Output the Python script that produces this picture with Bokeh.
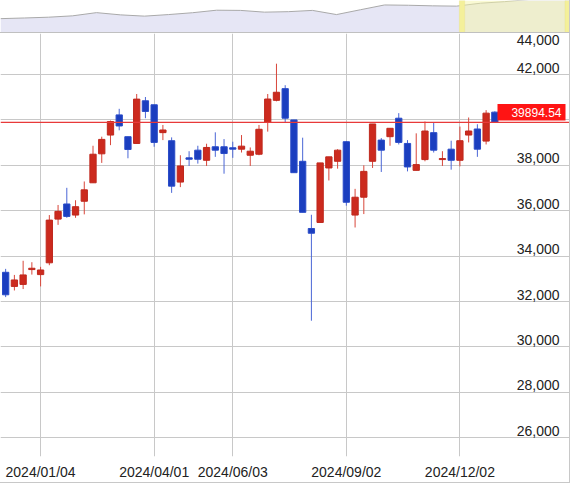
import pandas as pd
from bokeh.plotting import figure
from bokeh.layouts import column
from bokeh.models import Range1d, FixedTicker, Label, Span, ColumnDataSource, BoxAnnotation
from bokeh.core.properties import value
from bokeh.embed import file_html
from bokeh.resources import INLINE

# ---------------- data (weekly candles, Nikkei 225) ----------------
weeks = pd.date_range("2023-12-04", periods=57, freq="W-MON")
opens = [33289, 32667, 32756, 33409, 33187, 33707, 35631, 36298, 35809, 36418,
         37231, 38507, 39333, 40222, 39262, 38964, 40844, 40667, 39440, 39084,
         37262, 38329, 38667, 38222, 38818, 38818, 38773, 38711, 38444, 38489,
         39898, 40862, 41378, 40000, 38178, 35218, 35484, 37884, 38178, 39040,
         35809, 36596, 38178, 39111, 39262, 40075, 38964, 37778, 38253, 39440,
         38253, 38711, 38222, 39333, 39600, 39067, 40342]
highs = [33440, 33173, 33796, 33733, 33529, 35809, 36253, 37009, 36462, 37289,
         38862, 39262, 39973, 40489, 39262, 41142, 41009, 40667, 39778, 39231,
         38444, 38622, 38862, 38951, 39453, 39156, 39040, 39333, 38787, 39778,
         41142, 42476, 41529, 40000, 39218, 35822, 38107, 38373, 38711, 39067,
         36964, 38000, 39822, 39200, 39631, 40298, 39111, 39409, 39929, 39884,
         38622, 39084, 39707, 40107, 39809, 40431, 40380]
lows = [32196, 32489, 32551, 33187, 32667, 33600, 35378, 35689, 35689, 35840,
        37231, 38107, 38889, 39542, 38311, 38964, 40076, 38818, 39111, 36787,
        37040, 37973, 38075, 37973, 38373, 37631, 38329, 38564, 37973, 38444,
        39484, 40818, 39884, 37676, 35929, 31156, 35484, 37333, 37853, 36222,
        35262, 35853, 37884, 37707, 38862, 38920, 37733, 37778, 38178, 38564,
        37973, 37809, 37956, 39009, 38373, 38920, 39864]
closes = [32298, 32951, 33173, 33467, 33391, 35587, 35973, 35751, 36178, 36920,
          38489, 39142, 39929, 39733, 38698, 40916, 40373, 39009, 39556, 37084,
          37973, 38267, 38267, 38787, 38667, 38520, 38711, 38844, 38622, 39587,
          40920, 41218, 40075, 37676, 35929, 35009, 38107, 38373, 38667, 36373,
          36595, 37733, 39822, 38667, 39631, 39009, 37929, 38031, 39511, 38667,
          38298, 38222, 39084, 39511, 38711, 40298, 39894.54]

x_tick_weeks = ["2024-01-01", "2024-04-01", "2024-06-03", "2024-09-02", "2024-12-02"]
x_tick_labels = ["2024/01/04", "2024/04/01", "2024/06/03", "2024/09/02", "2024/12/02"]
y_ticks = [26000, 28000, 30000, 32000, 34000, 36000, 38000, 40000, 42000, 44000]
last_close = 39894.54

# navigator (long history overview strip)
nav_values = [22300, 23000, 23800, 25200, 28500, 26200, 24900, 26500, 28400, 31000,
              30800, 29000, 29500, 30800, 26500, 31500, 36400, 36100, 35500, 35200,
              38200, 39800, 42000, 43000, 44000]

# ---------------- styling ----------------
FONT = "Liberation Sans"
RED_F, RED_L, RED_W = "#cc2a1e", "#bf281d", "#d8463a"
BLUE_F, BLUE_L, BLUE_W = "#1b3ebf", "#2a4cc8", "#4a66d6"
GRID = "#c8c8c8"

PW, PH = 570, 423          # plot frame size in px
X0, X1 = -0.59, 64.66
Y0, Y1 = 25176, 43806
PXX = PW / (X1 - X0)       # px per x unit
UPY = (Y1 - Y0) / PH       # value per px

idx = list(range(len(weeks)))
up = [c >= o for o, c in zip(opens, closes)]
src = ColumnDataSource(dict(
    x=idx, high=highs, low=lows,
    top=[max(o, c) for o, c in zip(opens, closes)],
    bottom=[min(o, c) for o, c in zip(opens, closes)],
    fill=[RED_F if u else BLUE_F for u in up],
    line=[RED_L if u else BLUE_L for u in up],
    wick=[RED_W if u else BLUE_W for u in up],
))

week_str = [d.strftime("%Y-%m-%d") for d in weeks]
tick_pos = [week_str.index(w) for w in x_tick_weeks]

p = figure(width=PW, height=PH + 27, x_range=Range1d(X0, X1), y_range=Range1d(Y0, Y1),
           output_backend="svg", toolbar_location=None, y_axis_location=None,
           min_border_left=0, min_border_right=0, min_border_top=0, min_border_bottom=27,
           background_fill_color="white", border_fill_color="white",
           styles={"border-right": "1px solid #c8c8c8", "border-bottom": "1px solid #c8c8c8"})
p.outline_line_color = None

p.xgrid.ticker = FixedTicker(ticks=tick_pos)
p.ygrid.ticker = FixedTicker(ticks=y_ticks)
p.grid.grid_line_color = GRID
p.grid.grid_line_width = 1

ax = p.xaxis[0]
ax.ticker = FixedTicker(ticks=tick_pos)
ax.major_label_overrides = {t: l for t, l in zip(tick_pos, x_tick_labels)}
ax.axis_line_color = None
ax.major_tick_line_color = None
ax.minor_tick_line_color = None
ax.major_label_standoff = 1
ax.major_label_text_font = FONT
ax.major_label_text_font_size = "14px"
ax.major_label_text_color = "#222222"

# red line at last close
p.add_layout(Span(location=last_close, dimension="width", line_color="#e83a3a", line_width=1.3))

# candles
p.segment(x0="x", y0="high", x1="x", y1="low", source=src, line_color="wick", line_width=1)
p.vbar(x="x", width=0.72, top="top", bottom="bottom", source=src,
       fill_color="fill", line_color="line", line_width=1)

# y labels inside the plot (right aligned, above the grid lines)
inside = [t for t in y_ticks if t < Y1]
above = [t for t in y_ticks if t >= Y1]
p.text(x=[X1] * len(inside), y=inside, text=[f"{t:,}" for t in inside],
       text_align="right", text_baseline="bottom", x_offset=-11, y_offset=-2,
       text_font=value(FONT), text_font_size="14px", text_color="#222222")
p.text(x=[X1] * len(above), y=[Y1] * len(above), text=[f"{t:,}" for t in above],
       text_align="right", text_baseline="top", x_offset=-11, y_offset=1,
       text_font=value(FONT), text_font_size="14px", text_color="#222222")

# last-price tag
p.add_layout(BoxAnnotation(left=X1 - 73 / PXX, right=X1 - 5 / PXX,
                           bottom=last_close + 1.7 * UPY, top=last_close + 18.4 * UPY,
                           fill_color="#ff1414", fill_alpha=1.0, line_color=None))
p.add_layout(Label(x=X1, y=last_close, x_offset=-9, y_offset=10, text=f"{last_close:.2f}",
                   text_align="right", text_baseline="middle", text_color="white",
                   text_font=FONT, text_font_size="12px"))

# ---------------- navigator ----------------
nav_x = list(range(len(nav_values)))
nav = figure(width=PW, height=33, x_range=Range1d(0, 23.75), y_range=Range1d(7000, 41000),
             output_backend="svg", toolbar_location=None, x_axis_location=None,
             y_axis_location=None, min_border=0,
             styles={"border-bottom": "1px solid #c0c0c0", "border-right": "1px solid #c8c8c8"})
nav.outline_line_color = None
nav.grid.visible = False
nav.varea(x=nav_x, y1=[7000] * len(nav_x), y2=nav_values, fill_color="#e6e6f5")
nav.line(nav_x, nav_values, line_color="#a9a9a9", line_width=1)
nav.add_layout(BoxAnnotation(left=19.12, right=23.6, fill_color="#f6f6a8", fill_alpha=0.5,
                             line_color=None))
nav.add_layout(BoxAnnotation(left=19.12, right=19.34, fill_color="#f4f09a", fill_alpha=1,
                             line_color="#e6dc80"))
nav.add_layout(BoxAnnotation(left=23.52, right=23.75, fill_color="#f4f09a", fill_alpha=1,
                             line_color="#e6dc80"))

layout = column(nav, p, spacing=0)

open("out.html", "w").write(file_html(layout, INLINE))
